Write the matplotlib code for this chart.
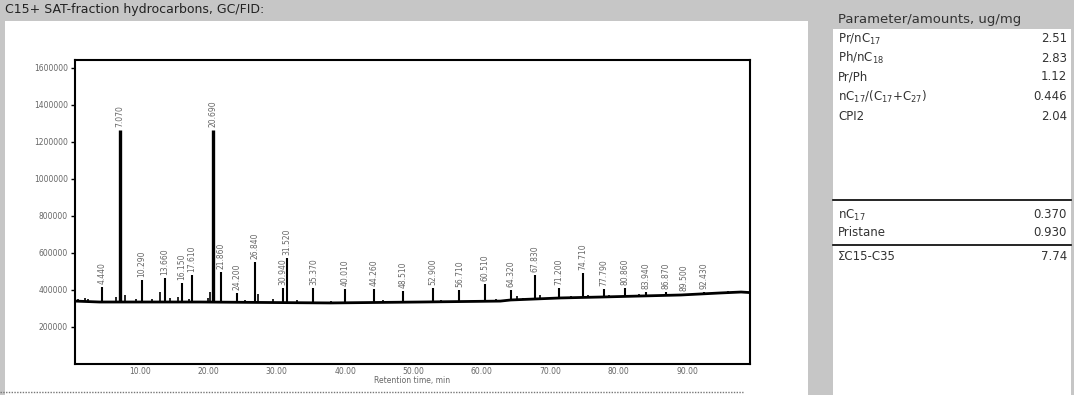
import numpy as np
from matplotlib import pyplot as plt
from matplotlib.patches import Rectangle

# chromatogram, C15+ saturated fraction
base_t = [0.5, 4.1, 18.8, 37.8, 51.0, 62.7, 64.2, 71.5, 77.4, 89.1, 94.9, 97.9, 99.2]
base_v = [340000, 335000, 335000, 330000, 335000, 340000, 346000, 357000, 362000,
          373000, 384000, 389000, 386000]

peak_t = [4.44, 7.07, 10.29, 13.66, 16.15, 17.61, 20.69, 21.86, 24.20, 26.84,
          30.94, 31.52, 35.37, 40.01, 44.26, 48.51, 52.90, 56.71, 60.51, 64.32,
          67.83, 71.20, 74.71, 77.79, 80.86, 83.94, 86.87, 89.50, 92.43]
peak_h = [416000, 1265000, 454000, 465000, 438000, 481000, 1265000, 497000, 384000, 551000,
          411000, 573000, 411000, 405000, 405000, 395000, 411000, 400000, 432000, 400000,
          481000, 411000, 492000, 405000, 411000, 389000, 389000, 378000, 389000]

minor_t = [0.9, 1.9, 2.4, 6.5, 7.8, 9.4, 11.7, 12.93, 14.4, 15.6, 17.1, 19.9, 20.3,
           25.4, 27.3, 29.5, 33.0, 38.0, 45.5, 54.0, 62.0, 65.2, 66.0, 68.5, 73.0,
           75.5, 78.6, 83.0, 91.0, 96.0]
minor_h = [352000, 358000, 352000, 360000, 372000, 350000, 352000, 389000, 356000, 360000,
           352000, 356000, 389000, 346000, 380000, 351000, 346000, 341000, 346000, 346000,
           352000, 365000, 357000, 372000, 368000, 375000, 372000, 378000, 384000, 394000]

y_ticks = [200000, 400000, 600000, 800000, 1000000, 1200000, 1400000, 1600000]
x_ticks = [10, 20, 30, 40, 50, 60, 70, 80, 90]

# parameter table
par_names = ['Pr/nC$_{17}$', 'Ph/nC$_{18}$', 'Pr/Ph', 'nC$_{17}$/(C$_{17}$+C$_{27}$)', 'CPI2']
par_vals = ['2.51', '2.83', '1.12', '0.446', '2.04']
amt_names = ['nC$_{17}$', 'Pristane', '\u03a3C15-C35']
amt_vals = ['0.370', '0.930', '7.74']

W, H = 1074, 395
GRAY = '#c6c6c6'
TXT = '#333333'
plt.rcParams['font.family'] = ['DejaVu Sans']


def box(x0, y0, x1, y1):
    return [x0 / W, 1 - y1 / H, (x1 - x0) / W, (y1 - y0) / H]


fig = plt.figure(figsize=(W / 100, H / 100), dpi=100, facecolor=GRAY)

# background panels drawn in pixel coordinates
bg = fig.add_axes([0, 0, 1, 1])
bg.set_xlim(0, W)
bg.set_ylim(H, 0)
bg.axis('off')
bg.add_patch(Rectangle((5, 21), 803, 374, facecolor='white', edgecolor='none'))
bg.add_patch(Rectangle((833, 29), 238, 366, facecolor='white', edgecolor='none'))
bg.plot([0, 743], [392, 392], color='#777777', lw=1, ls=(0, (1, 1)))
bg.text(5, 10, 'C15+ SAT-fraction hydrocarbons, GC/FID:', fontsize=9,
        color='#222222', va='center', ha='left')
bg.text(838, 19, 'Parameter/amounts, ug/mg', fontsize=9.5, color=TXT, va='center', ha='left')

row_y = [39, 58, 77, 97, 117]
for name, val, y in zip(par_names, par_vals, row_y):
    bg.text(838, y, name, fontsize=8.5, color=TXT, va='center', ha='left')
    bg.text(1067, y, val, fontsize=8.5, color=TXT, va='center', ha='right')
bg.plot([833, 1071], [200, 200], color='black', lw=1.2)
amt_y = [215, 233, 256]
for name, val, y in zip(amt_names, amt_vals, amt_y):
    bg.text(838, y, name, fontsize=8.5, color=TXT, va='center', ha='left')
    bg.text(1067, y, val, fontsize=8.5, color=TXT, va='center', ha='right')
bg.plot([833, 1071], [245, 245], color='black', lw=1.2)

# chromatogram
ax = fig.add_axes(box(75, 60, 750, 364))
ax.set_facecolor('white')
ax.plot(base_t, base_v, color='black', lw=2)
ax.vlines(minor_t, np.interp(minor_t, base_t, base_v), minor_h, color='black', lw=1.2)
big = [h > 1000000 for h in peak_h]
ax.vlines(peak_t, np.interp(peak_t, base_t, base_v), peak_h, color='black',
          lw=[2.4 if b else 1.5 for b in big])
for t, h in zip(peak_t, peak_h):
    ax.text(t, h + 15000, f'{t:.3f}', rotation=90, fontsize=5.5, color='#666666',
            ha='center', va='bottom')
ax.set_xlim(0.5, 99.2)
ax.set_ylim(0, 1643000)
ax.set_yticks(y_ticks)
ax.set_yticklabels([str(v) for v in y_ticks], fontsize=5.5, color='#666666')
ax.set_xticks(x_ticks)
ax.set_xticklabels([f'{v:.2f}' for v in x_ticks], fontsize=5.5, color='#666666')
ax.tick_params(axis='y', length=3, width=1, pad=2)
ax.tick_params(axis='x', length=0, pad=2)
ax.set_xlabel('Retention time, min', fontsize=5.5, color='#666666', labelpad=0)
for s in ax.spines.values():
    s.set_linewidth(1.5)

plt.savefig('out.png', dpi=100, facecolor=GRAY)
plt.close()
